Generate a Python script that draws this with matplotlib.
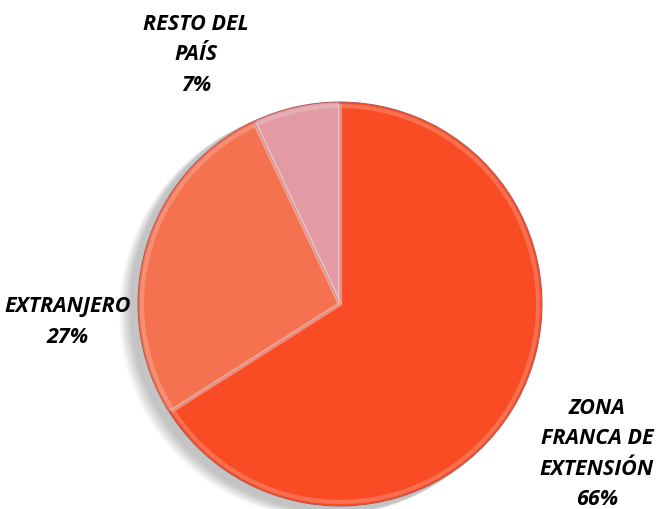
import matplotlib.pyplot as plt
from matplotlib.patches import Circle

labels = ['ZONA\nFRANCA DE\nEXTENSIÓN', 'EXTRANJERO', 'RESTO DEL\nPAÍS']
shares = [66, 27, 7]
colors = ['#F94C24', '#F57250', '#E29BA3']

fig = plt.figure(figsize=(6.62, 5.10), dpi=100)
ax = fig.add_axes([0, 0, 1, 1])

cx, cy, r = 340, 205, 202

# soft shadow to the lower left
for i in range(12):
    ax.add_patch(Circle((cx - 6 - i, cy - 4 - i * 0.5), r + 2, color='black',
                        alpha=0.018, lw=0, zorder=0))

wedges, _ = ax.pie(shares, colors=colors, startangle=90, counterclock=False,
                   center=(cx, cy), radius=r,
                   wedgeprops=dict(edgecolor='#B0585A', linewidth=0.7))
for w in wedges:
    w.set_zorder(2)

# bevel look: a lighter rim inside each slice
rims, _ = ax.pie(shares, colors=['white'] * 3, startangle=90, counterclock=False,
                 center=(cx, cy), radius=r - 4,
                 wedgeprops=dict(edgecolor=(1, 1, 1, 0.2), linewidth=3, fill=False))
for w in rims:
    w.set_zorder(3)

ax.set_xlim(0, 662)
ax.set_ylim(0, 510)
ax.set_aspect('equal')
ax.axis('off')

font = dict(family=['Open Sans', 'DejaVu Sans'], fontsize=15.5, fontweight='bold',
            fontstyle='italic', ha='center', va='center', linespacing=1.58, zorder=5)
ax.text(597, 510 - 454, labels[0] + '\n%d%%' % shares[0], **font)
ax.text(68, 510 - 322, labels[1] + '\n%d%%' % shares[1], **font)
ax.text(196, 510 - 55, labels[2] + '\n%d%%' % shares[2], **font)

fig.savefig('out.png', dpi=100)
